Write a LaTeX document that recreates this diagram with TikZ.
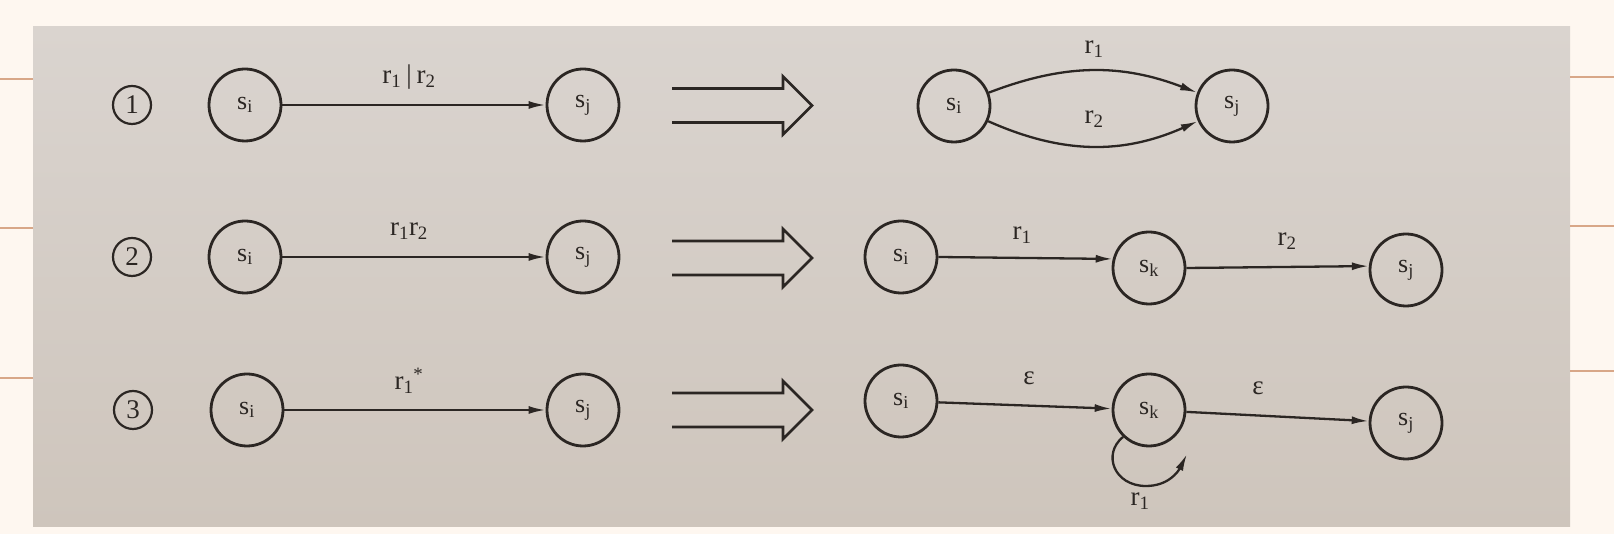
\documentclass[tikz,border=0pt]{standalone}
\usepackage{fontspec}
\setmainfont{Liberation Serif}
\usetikzlibrary{arrows.meta}
\definecolor{ink}{HTML}{2B2623}
\definecolor{papertop}{HTML}{DAD4CF}
\definecolor{paperbot}{HTML}{CEC5BC}
\definecolor{outer}{HTML}{FEF7F0}
\definecolor{rulecol}{HTML}{D8A788}
\begin{document}
\begin{tikzpicture}[x=1pt,y=1pt,
  state/.style={circle,draw=ink,line width=2.8pt,minimum size=72pt,inner sep=0pt,font=\fontsize{26}{26}\selectfont,text=ink},
  num/.style={circle,draw=ink,line width=2.2pt,minimum size=38pt,inner sep=0pt,font=\fontsize{27}{27}\selectfont,text=ink},
  lab/.style={font=\fontsize{27}{27}\selectfont,text=ink,inner sep=0pt},
  arr/.style={draw=ink,line width=2.3pt,-{Latex[length=17pt,width=8pt]}},
  bigarrow/.style={draw=ink,line width=2.7pt,line join=miter}
]
\path[fill=outer] (0,0) rectangle (1614,534);
\useasboundingbox (0,0) rectangle (1614,534);
\shade[top color=papertop,bottom color=paperbot] (33,7) rectangle (1570,507);
% side rules
\draw[rulecol,line width=2pt] (0,455) -- (33,455) (0,306) -- (33,306) (0,156) -- (33,156);
\draw[rulecol,line width=2pt] (1570,457) -- (1614,457) (1570,308) -- (1614,308) (1570,163) -- (1614,163);
% hollow double arrows
\foreach \yy in {428.5,276,124}{
  \draw[bigarrow] (672,\yy+17) -- (783,\yy+17) -- (783,\yy+29) -- (812,\yy) -- (783,\yy-29) -- (783,\yy-17) -- (672,\yy-17);
}
% row 1
\node[num] (n1) at (132,429) {1};
\node[state] (a1i) at (245,429) {s\textsubscript{i}};
\node[state] (a1j) at (583,429) {s\textsubscript{j}};
\draw[arr] (a1i) -- (a1j);
\node[lab] (l1) at (409,457) {r\textsubscript{1}\kern5pt|\kern5pt r\textsubscript{2}};
\node[state] (b1i) at (954,428) {s\textsubscript{i}};
\node[state] (b1j) at (1232,428) {s\textsubscript{j}};
\draw[arr] (b1i) to[bend left=21] (b1j);
\draw[arr] (b1i) to[bend right=24] (b1j);
\node[lab] (l1a) at (1094,485) {r\textsubscript{1}};
\node[lab] (l1b) at (1094,415) {r\textsubscript{2}};
% row 2
\node[num] (n2) at (132,277) {2};
\node[state] (a2i) at (245,277) {s\textsubscript{i}};
\node[state] (a2j) at (583,277) {s\textsubscript{j}};
\draw[arr] (a2i) -- (a2j);
\node[lab] (l2) at (409,303) {r\textsubscript{1}r\textsubscript{2}};
\node[state] (b2i) at (901,277) {s\textsubscript{i}};
\node[state] (b2k) at (1149,266) {s\textsubscript{k}};
\node[state] (b2j) at (1406,264) {s\textsubscript{j}};
\draw[arr] (b2i.east) -- (b2k.166);
\draw[arr] (b2k.east) -- (b2j.174);
\node[lab] (l2a) at (1022,299) {r\textsubscript{1}};
\node[lab] (l2b) at (1287,293) {r\textsubscript{2}};
% row 3
\node[num] (n3) at (133,124) {3};
\node[state] (a3i) at (247,124) {s\textsubscript{i}};
\node[state] (a3j) at (583,124) {s\textsubscript{j}};
\draw[arr] (a3i) -- (a3j);
\node[lab] (l3) at (409,153) {r\textsubscript{1}\textsuperscript{*}};
\node[state] (b3i) at (901,133) {s\textsubscript{i}};
\node[state] (b3k) at (1149,124) {s\textsubscript{k}};
\node[state] (b3j) at (1406,111) {s\textsubscript{j}};
\draw[arr] (b3i) -- (b3k);
\draw[arr] (b3k) -- (b3j);
\node[lab] (l3a) at (1029,156) {ε};
\node[lab] (l3b) at (1258,146) {ε};
\coordinate (le) at (1187,80);
\draw[arr] (b3k.226) .. controls (1102,80) and (1114,48) .. (1146,48) .. controls (1168,48) and (1178,62) .. (le);
\node[lab] (l3c) at (1140,33) {r\textsubscript{1}};
\end{tikzpicture}
\end{document}
